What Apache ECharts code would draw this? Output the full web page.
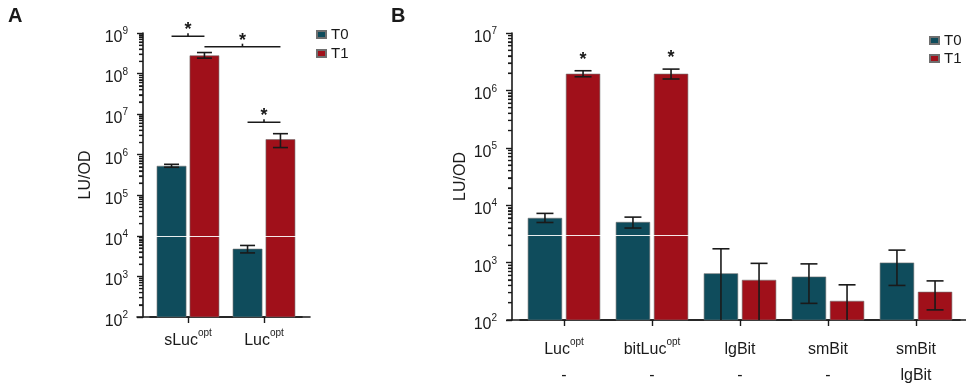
<!DOCTYPE html>
<html>
<head>
<meta charset="utf-8">
<script src="https://cdn.jsdelivr.net/npm/echarts@6/dist/echarts.min.js"></script>
<style>
html, body { margin: 0; padding: 0; background: #fff; }
#main { width: 966px; height: 386px; }
</style>
</head>
<body>
<div id="main"></div>
<script>
// ---- panel A ----
var catsA = ['sLuc{sup|opt}', 'Luc{sup|opt}'];
var t0A = [5.3e5, 4.8e3];
var t0ALo = [4.9e5, 3.8e3];
var t0AHi = [5.8e5, 5.8e3];
var t1A = [2.8e8, 2.4e6];
var t1ALo = [2.4e8, 1.5e6];
var t1AHi = [3.3e8, 3.3e6];
// [from category, from side, to category, to side, height]
var bracketsA = [[0, -1, 0, 1, 8.3e8], [0, 1, 1, 1, 4.6e8], [1, -1, 1, 1, 6.3e6]];
var breakA = 1e4;

// ---- panel B ----
var catsB = ['Luc{sup|opt}\n-', 'bitLuc{sup|opt}\n-', 'lgBit\n-', 'smBit\n-', 'smBit\nlgBit'];
var t0B = [6.0e3, 5.1e3, 650, 570, 1000];
var t0BLo = [5.0e3, 4.0e3, 0, 195, 400];
var t0BHi = [7.2e3, 6.2e3, 1740, 950, 1650];
var t1B = [1.95e6, 1.95e6, 500, 215, 310];
var t1BLo = [1.73e6, 1.58e6, 0, 0, 150];
var t1BHi = [2.2e6, 2.35e6, 970, 410, 480];
var sigB = [1, 1, 0, 0, 0];
var breakB = 3000;

// minor log ticks of the y axes (2..9 x 10^k)
var minorA = [200, 300, 400, 500, 600, 700, 800, 900,
  2e3, 3e3, 4e3, 5e3, 6e3, 7e3, 8e3, 9e3,
  2e4, 3e4, 4e4, 5e4, 6e4, 7e4, 8e4, 9e4,
  2e5, 3e5, 4e5, 5e5, 6e5, 7e5, 8e5, 9e5,
  2e6, 3e6, 4e6, 5e6, 6e6, 7e6, 8e6, 9e6,
  2e7, 3e7, 4e7, 5e7, 6e7, 7e7, 8e7, 9e7,
  2e8, 3e8, 4e8, 5e8, 6e8, 7e8, 8e8, 9e8];
var minorB = minorA.slice(0, 40);

var C0 = '#0f4c5c';
var C1 = '#a0101a';
var INK = '#1a1a1a';
var FONT = 'Liberation Sans, Arial, sans-serif';
var BAR = 0.39, GAP = 0.11;

// panel layout: grid left, y axis offset
var LEFT_A = 150, OFF_A = 7;
var LEFT_B = 520, OFF_B = 8;

function errData(lo, hi, sig, n) {
  return lo.map(function (l, i) { return [i, l, hi[i], sig ? sig[i] : 0, n]; });
}

function errRender(side, capW) {
  return function (params, api) {
    var cs = params.coordSys;
    var n = api.value(4);
    var band = cs.width / n;
    var off = band * BAR * (1 + GAP) / 2;
    var cat = api.value(0), lo = api.value(1), hi = api.value(2);
    var top = api.coord([cat, hi]);
    var x = top[0] + side * off;
    var bottom = cs.y + cs.height;
    var yLo = lo > 0 ? api.coord([cat, lo])[1] : bottom;
    var st = { stroke: INK, lineWidth: 1.6 };
    var kids = [
      { type: 'line', shape: { x1: x, y1: top[1], x2: x, y2: yLo }, style: st },
      { type: 'line', shape: { x1: x - capW / 2, y1: top[1], x2: x + capW / 2, y2: top[1] }, style: st }
    ];
    if (lo > 0) kids.push({ type: 'line', shape: { x1: x - capW / 2, y1: yLo, x2: x + capW / 2, y2: yLo }, style: st });
    if (api.value(3)) {
      kids.push({ type: 'text', style: { x: x, y: top[1] - 11, text: '*', fill: INK,
        font: 'bold 18px ' + FONT, align: 'center', verticalAlign: 'middle' } });
    }
    return { type: 'group', children: kids };
  };
}

function bracketRender(params, api) {
  var cs = params.coordSys;
  var band = cs.width / catsA.length;
  var off = band * BAR * (1 + GAP) / 2;
  var yv = api.value(4);
  var p1 = api.coord([api.value(0), yv]);
  var p2 = api.coord([api.value(2), yv]);
  var x1 = p1[0] + api.value(1) * off;
  var x2 = p2[0] + api.value(3) * off;
  var y = p1[1];
  var mid = (x1 + x2) / 2;
  var st = { stroke: INK, lineWidth: 1.6 };
  return { type: 'group', children: [
    { type: 'line', shape: { x1: x1, y1: y, x2: x2, y2: y }, style: st },
    { type: 'line', shape: { x1: mid, y1: y, x2: mid, y2: y - 3 }, style: st },
    { type: 'text', style: { x: mid, y: y - 6, text: '*', fill: INK, font: 'bold 18px ' + FONT,
      align: 'center', verticalAlign: 'middle' } }
  ] };
}

// minor tick on the offset y axis: left edge of the first band, minus the axis offset
function minorRender(axisOff) {
  return function (params, api) {
    var cs = params.coordSys;
    var n = api.value(4);
    var p = api.coord([0, api.value(2)]);
    var x = p[0] - cs.width / n / 2 - axisOff;
    return { type: 'group', children: [
      { type: 'line', shape: { x1: x - 4, y1: p[1], x2: x, y2: p[1] }, style: { stroke: INK, lineWidth: 1.2 } }
    ] };
  };
}

function minorData(ticks, n) {
  return ticks.map(function (v) { return [0, v, v, 0, n]; });
}

var supRich = {
  sup: { fontSize: 10, lineHeight: 16, padding: [0, 0, 16, 0], fontFamily: FONT, color: INK }
};

function yAxisOpt(grid, max, split, offset, gap) {
  return {
    type: 'log', logBase: 10, gridIndex: grid, min: 100, max: max, splitNumber: split,
    offset: offset,
    name: 'LU/OD', nameLocation: 'middle', nameGap: gap,
    nameTextStyle: { fontSize: 16, color: INK, fontFamily: FONT },
    axisLine: { show: true, lineStyle: { color: INK, width: 1.6 } },
    axisTick: { show: true, length: 6, lineStyle: { color: INK, width: 1.4 } },
    splitLine: { show: false },
    axisLabel: {
      margin: 15,
      formatter: function (v) { return '{b|10}{s|' + Math.round(Math.log10(v)) + '}'; },
      rich: {
        b: { fontSize: 16, lineHeight: 16, padding: [9, 0, 0, 0], color: INK, fontFamily: FONT },
        s: { fontSize: 10, lineHeight: 16, padding: [0, 0, 3, 0], color: INK, fontFamily: FONT }
      }
    }
  };
}

function xAxisOpt(grid, cats, margin, lh) {
  return {
    type: 'category', gridIndex: grid, data: cats,
    axisLine: { show: true, lineStyle: { color: INK, width: 1.6 } },
    axisTick: { show: true, alignWithLabel: true, length: 6, lineStyle: { color: INK, width: 1.4 } },
    axisLabel: { interval: 0, hideOverlap: false, margin: margin, fontSize: 16, lineHeight: lh,
      color: INK, fontFamily: FONT, rich: supRich }
  };
}

function frameAxes(grid) {
  return {
    x: { type: 'value', gridIndex: grid, min: 0, max: 1, axisLine: { show: true, lineStyle: { color: INK, width: 1.6 } },
      axisTick: { show: false }, axisLabel: { show: false }, splitLine: { show: false } },
    y: { type: 'value', gridIndex: grid, min: 0, max: 1, show: false }
  };
}

var fA = frameAxes(2), fB = frameAxes(3);

// same minor ticks as marker lines: x at the (offset) axis line, y from the log scale
function minorMarks(ticks, axisX) {
  return {
    silent: true, symbol: 'none', label: { show: false },
    lineStyle: { color: INK, width: 1.2, type: 'solid' },
    data: ticks.map(function (v) { return [{ x: axisX - 4, yAxis: v }, { x: axisX, yAxis: v }]; })
  };
}

function barSeries(name, color, xi, data, mark) {
  return {
    type: 'bar', name: name, xAxisIndex: xi, yAxisIndex: xi, data: data,
    barWidth: (BAR * 100) + '%', barGap: (GAP * 100) + '%',
    itemStyle: { color: color, borderColor: '#6f6f6f', borderWidth: 0.6 },
    markLine: mark
  };
}

function breakMark(brk) {
  return { silent: true, symbol: 'none', label: { show: false },
    lineStyle: { color: '#fff', width: 1, type: 'solid', opacity: 0.9 }, data: [{ yAxis: brk }] };
}

function customSeries(xi, data, yDim, render, mark) {
  var s = { type: 'custom', xAxisIndex: xi, yAxisIndex: xi, data: data,
    encode: { x: 0, y: yDim }, renderItem: render, silent: true, clip: false, z: 5 };
  if (mark) s.markLine = mark;
  return s;
}

function gridBox(left, width, height) {
  return { left: left, top: 33, width: width, height: height, outerBoundsMode: 'none', containLabel: false };
}

var chart = echarts.init(document.getElementById('main'));
chart.setOption({
  animation: false,
  textStyle: { fontFamily: FONT },
  title: [
    { text: 'A', left: 8, top: 6, padding: 0, textStyle: { fontSize: 20, fontWeight: 'bold', color: INK, fontFamily: FONT } },
    { text: 'B', left: 391, top: 6, padding: 0, textStyle: { fontSize: 20, fontWeight: 'bold', color: INK, fontFamily: FONT } }
  ],
  legend: [
    { orient: 'vertical', left: 311, top: 22, icon: 'rect', itemWidth: 9, itemHeight: 7, itemGap: 4,
      data: ['T0', 'T1'], textStyle: { fontSize: 15, color: INK, fontFamily: FONT } },
    { orient: 'vertical', left: 924, top: 28, icon: 'rect', itemWidth: 9, itemHeight: 7, itemGap: 3,
      data: ['T0', 'T1'], textStyle: { fontSize: 15, color: INK, fontFamily: FONT } }
  ],
  grid: [
    gridBox(LEFT_A, 152, 284),
    gridBox(LEFT_B, 440, 287),
    gridBox(137, 173, 284),
    gridBox(507, 459, 287)
  ],
  xAxis: [xAxisOpt(0, catsA, 14, 20), xAxisOpt(1, catsB, 17, 26), fA.x, fB.x],
  yAxis: [yAxisOpt(0, 1e9, 7, OFF_A, 49), yAxisOpt(1, 1e7, 5, OFF_B, 43), fA.y, fB.y],
  series: [
    barSeries('T0', C0, 0, t0A),
    barSeries('T1', C1, 0, t1A, breakMark(breakA)),
    barSeries('T0', C0, 1, t0B),
    barSeries('T1', C1, 1, t1B, breakMark(breakB)),
    customSeries(0, errData(t0ALo, t0AHi, null, catsA.length), 2, errRender(-1, 15), minorMarks(minorA, LEFT_A - OFF_A)),
    customSeries(0, errData(t1ALo, t1AHi, null, catsA.length), 2, errRender(1, 15)),
    customSeries(1, errData(t0BLo, t0BHi, null, catsB.length), 2, errRender(-1, 17), minorMarks(minorB, LEFT_B - OFF_B)),
    customSeries(1, errData(t1BLo, t1BHi, sigB, catsB.length), 2, errRender(1, 17)),
    customSeries(0, bracketsA, 4, bracketRender),
    customSeries(0, minorData(minorA, catsA.length), 2, minorRender(OFF_A)),
    customSeries(1, minorData(minorB, catsB.length), 2, minorRender(OFF_B))
  ]
});
</script>
</body>
</html>
